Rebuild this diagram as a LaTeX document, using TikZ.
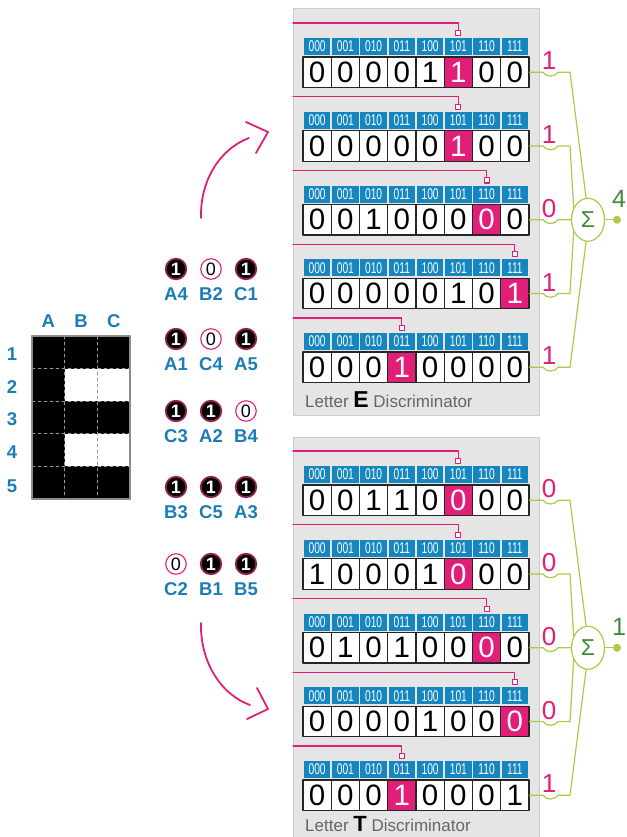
\documentclass[tikz,border=0pt]{standalone}
\usepackage{fontspec}
\setmainfont{Liberation Sans}
\usepackage{graphicx}
\usetikzlibrary{shapes.geometric}
\begin{document}
\begin{tikzpicture}[x=1pt, y=-1pt, line cap=round, line join=round]
% Letter discriminator figure, pixel units with y going down
\def\cellw{28.25}
\definecolor{discPink}{RGB}{225,30,120}
\definecolor{discHead}{RGB}{22,134,192}
\definecolor{discName}{RGB}{28,124,182}
\definecolor{discPanel}{RGB}{229,229,229}
\definecolor{discPanelEdge}{RGB}{204,204,204}
\definecolor{discWire}{RGB}{172,202,72}
\definecolor{discSum}{RGB}{64,140,56}
\definecolor{discHalo}{RGB}{150,30,85}
\tikzset{
  headcell/.style={fill=discHead, text=white, minimum width=26.6pt, minimum height=17pt, inner sep=0pt, font=\fontsize{15.5}{15.5}\selectfont},
  valcell/.style={draw=black!85, line width=1.1pt, fill=white, minimum width=28.25pt, minimum height=30.5pt, inner sep=0pt, font=\fontsize{29.5}{29.5}\selectfont},
  litcell/.style={valcell, fill=discPink, text=white},
  selline/.style={draw=discPink, line width=1.2pt},
  selpin/.style={draw=discPink, fill=white, line width=1pt, minimum size=5pt, inner sep=0pt},
  outlabel/.style={text=discPink, font=\fontsize{26}{26}\selectfont, inner sep=0pt},
  wire/.style={draw=discWire, line width=1.2pt},
  sigma/.style={ellipse, draw=discWire, fill=white, line width=1.2pt, minimum width=33pt, minimum height=43pt, inner sep=0pt, text=discSum, font=\fontsize{23}{23}\selectfont},
  sumdot/.style={circle, fill=discWire, minimum size=8pt, inner sep=0pt},
  sumlabel/.style={text=discSum, font=\fontsize{25}{25}\selectfont, inner sep=0pt},
  bitone/.style={circle, fill=black, draw=discHalo, line width=1.8pt, minimum size=20.5pt, inner sep=0pt, text=white, font=\bfseries\fontsize{18}{18}\selectfont},
  bitzero/.style={circle, fill=white, draw=discPink, line width=1.1pt, minimum size=20.5pt, inner sep=0pt, font=\fontsize{18}{18}\selectfont},
  bitname/.style={text=discName, font=\bfseries\fontsize{18.5}{18.5}\selectfont, inner sep=0pt},
  flow/.style={draw=discPink, line width=1.8pt},
  discCaption/.style={text=black!60, font=\fontsize{17}{17}\selectfont, anchor=base west, inner sep=0pt}
}
% one row of a discriminator: name, top of value cells, lit column, values, output
\providecommand{\discRow}[5]{%
  \draw[selline] (293,#2-34) -| ({303+\cellw*(#3+0.5)},#2-26.5);
  \node[selpin] (#1p) at ({303+\cellw*(#3+0.5)},#2-24) {};
  \foreach \hd [count=\j from 0] in {000,001,010,011,100,101,110,111}
    \node[headcell] (#1h\j) at ({303+\cellw*(\j+0.5)},#2-10.5) {\scalebox{0.66}[1]{\hd}};
  \foreach \v [count=\j from 0] in {#4} {
    \ifnum\j=#3\relax
      \node[litcell] (#1v\j) at ({303+\cellw*(\j+0.5)},#2+15.25) {\v};
    \else
      \node[valcell] (#1v\j) at ({303+\cellw*(\j+0.5)},#2+15.25) {\v};
    \fi
  }
  \node[outlabel] (#1o) at (549,#2+4) {#5};
}
\useasboundingbox (0,0) rectangle (626,837);
% Letter E bitmap
\fill[black] (32,336) rectangle (130,499);
\fill[white] (64.67,368.6) rectangle (130,401.2);
\fill[white] (64.67,433.8) rectangle (130,466.4);
\begin{scope}[draw=black!40, line width=0.8pt, dashed]
  \draw (64.67,336) -- (64.67,499);
  \draw (97.33,336) -- (97.33,499);
  \draw (32,368.6) -- (130,368.6);
  \draw (32,401.2) -- (130,401.2);
  \draw (32,433.8) -- (130,433.8);
  \draw (32,466.4) -- (130,466.4);
\end{scope}
\draw[black!45, line width=1.5pt] (32,336) rectangle (130,499);
\node[bitname] (colA) at (48.3,321) {A};
\node[bitname] (colB) at (81,321) {B};
\node[bitname] (colC) at (113.7,321) {C};
\node[bitname] (row1) at (12,354) {1};
\node[bitname] (row2) at (12,387) {2};
\node[bitname] (row3) at (12,419.5) {3};
\node[bitname] (row4) at (12,452) {4};
\node[bitname] (row5) at (12,486) {5};
% Sampled bits
\node[bitone]  (cA4) at (176,269) {1};
\node[bitzero] (cB2) at (211,269) {0};
\node[bitone]  (cC1) at (246,269) {1};
\node[bitname] (nA4) at (176,294) {A4};
\node[bitname] (nB2) at (211,294) {B2};
\node[bitname] (nC1) at (246,294) {C1};
\node[bitone]  (cA1) at (176,339) {1};
\node[bitzero] (cC4) at (211,339) {0};
\node[bitone]  (cA5) at (246,339) {1};
\node[bitname] (nA1) at (176,364) {A1};
\node[bitname] (nC4) at (211,364) {C4};
\node[bitname] (nA5) at (246,364) {A5};
\node[bitone]  (cC3) at (176,411) {1};
\node[bitone]  (cA2) at (211,411) {1};
\node[bitzero] (cB4) at (246,411) {0};
\node[bitname] (nC3) at (176,436) {C3};
\node[bitname] (nA2) at (211,436) {A2};
\node[bitname] (nB4) at (246,436) {B4};
\node[bitone]  (cB3) at (176,487) {1};
\node[bitone]  (cC5) at (211,487) {1};
\node[bitone]  (cA3) at (246,487) {1};
\node[bitname] (nB3) at (176,512) {B3};
\node[bitname] (nC5) at (211,512) {C5};
\node[bitname] (nA3) at (246,512) {A3};
\node[bitzero] (cC2) at (176,564) {0};
\node[bitone]  (cB1) at (211,564) {1};
\node[bitone]  (cB5) at (246,564) {1};
\node[bitname] (nC2) at (176,589) {C2};
\node[bitname] (nB1) at (211,589) {B1};
\node[bitname] (nB5) at (246,589) {B5};
% Arrows to both discriminators
\draw[flow] (201,218) .. controls (200,178) and (222,148) .. (249,138);
\draw[flow] (246,122) -- (268,132) -- (256,153);
\draw[flow] (201,623) .. controls (200,663) and (222,695) .. (250,705);
\draw[flow] (257,688) -- (268,709) -- (247,719);
% Panels
\filldraw[fill=discPanel, draw=discPanelEdge, line width=1pt] (293,9) rectangle (539,415);
\fill[discPanel] (293,437) rectangle (539,837);
\draw[discPanelEdge, line width=1pt] (293,837) -- (293,437) -- (539,437) -- (539,837);
% Letter E discriminator
\discRow{E1}{57}{5}{0,0,0,0,1,1,0,0}{1}
\discRow{E2}{130.75}{5}{0,0,0,0,0,1,0,0}{1}
\discRow{E3}{204.5}{6}{0,0,1,0,0,0,0,0}{0}
\discRow{E4}{278.25}{7}{0,0,0,0,0,1,0,1}{1}
\discRow{E5}{352}{3}{0,0,0,1,0,0,0,0}{1}
\node[discCaption] (capE) at (305,407) {Letter {\color{black}\bfseries\fontsize{23}{23}\selectfont E} Discriminator};
\node[sigma] (sigE) at (588,219.75) {Σ};
\node[sumdot] (outE) at (617,219.75) {};
\node[sumlabel] (sumE) at (619,199) {4};
\draw[wire] (E1v7.east) -- (543,72.25) .. controls (546,77.25) and (555,77.25) .. (558,72.25) -- (570,72.25) -- (sigE.95);
\draw[wire] (E2v7.east) -- (543,146) .. controls (546,151) and (555,151) .. (558,146) -- (570,146) -- (sigE.140);
\draw[wire] (E3v7.east) -- (543,219.75) .. controls (546,224.75) and (555,224.75) .. (558,219.75) -- (sigE.west);
\draw[wire] (E4v7.east) -- (543,293.5) .. controls (546,298.5) and (555,298.5) .. (558,293.5) -- (570,293.5) -- (sigE.220);
\draw[wire] (E5v7.east) -- (543,367.25) .. controls (546,372.25) and (555,372.25) .. (558,367.25) -- (570,367.25) -- (sigE.265);
\draw[wire] (sigE) -- (outE);
% Letter T discriminator
\discRow{T1}{485}{5}{0,0,1,1,0,0,0,0}{0}
\discRow{T2}{558.75}{5}{1,0,0,0,1,0,0,0}{0}
\discRow{T3}{632.5}{6}{0,1,0,1,0,0,0,0}{0}
\discRow{T4}{706.25}{7}{0,0,0,0,1,0,0,0}{0}
\discRow{T5}{780}{3}{0,0,0,1,0,0,0,1}{1}
\node[discCaption] (capT) at (305,831) {Letter {\color{black}\bfseries\fontsize{22}{22}\selectfont T} Discriminator};
\node[sigma] (sigT) at (588,647.75) {Σ};
\node[sumdot] (outT) at (617,647.75) {};
\node[sumlabel] (sumT) at (619,627) {1};
\draw[wire] (T1v7.east) -- (543,500.25) .. controls (546,505.25) and (555,505.25) .. (558,500.25) -- (570,500.25) -- (sigT.95);
\draw[wire] (T2v7.east) -- (543,574) .. controls (546,579) and (555,579) .. (558,574) -- (570,574) -- (sigT.140);
\draw[wire] (T3v7.east) -- (543,647.75) .. controls (546,652.75) and (555,652.75) .. (558,647.75) -- (sigT.west);
\draw[wire] (T4v7.east) -- (543,721.5) .. controls (546,726.5) and (555,726.5) .. (558,721.5) -- (570,721.5) -- (sigT.220);
\draw[wire] (T5v7.east) -- (543,795.25) .. controls (546,800.25) and (555,800.25) .. (558,795.25) -- (570,795.25) -- (sigT.265);
\draw[wire] (sigT) -- (outT);
\end{tikzpicture}
\end{document}
